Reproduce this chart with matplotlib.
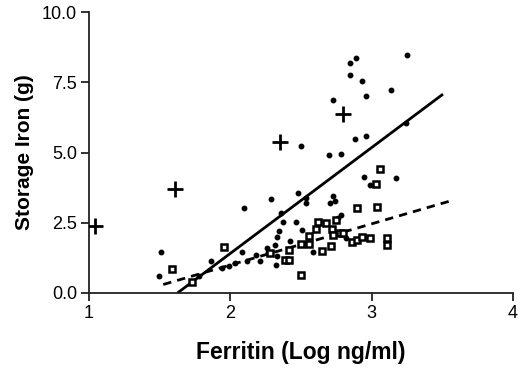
import numpy as np
import matplotlib
matplotlib.use('Agg')
import matplotlib.pyplot as plt

plt.rcParams['font.family'] = ['Liberation Sans', 'DejaVu Sans']

# 점 데이터 (Ferritin log, Storage iron g)
dot_x = [1.507, 1.497, 1.78, 1.867, 1.99, 2.03, 2.08, 2.10, 2.21, 2.26, 2.268, 2.287,
         2.315, 2.32, 2.33, 2.346, 2.357, 2.37, 2.33, 2.425, 2.468, 2.48, 2.50, 2.504,
         2.539, 2.539, 2.586, 2.695, 2.704, 2.727, 2.742, 2.727, 2.765, 2.78, 2.78, 2.82,
         2.85, 2.85, 2.888, 2.885, 2.935, 2.947, 2.96, 2.963, 2.99, 3.135, 3.175, 3.246,
         3.25, 2.73, 2.18, 1.94, 2.12]
dot_y = [1.47, 0.62, 0.62, 1.13, 0.95, 1.07, 1.46, 3.04, 1.12, 1.59, 1.45, 3.34,
         1.72, 1.01, 1.99, 2.19, 2.84, 2.53, 1.30, 1.86, 2.51, 3.55, 5.23, 2.25,
         3.39, 3.20, 1.44, 4.90, 3.22, 3.46, 3.29, 6.86, 2.66, 2.78, 4.96, 1.95,
         8.20, 7.75, 8.38, 5.49, 7.53, 4.12, 5.60, 7.03, 3.85, 7.22, 4.08, 6.04,
         8.49, 2.10, 1.35, 0.88, 1.15]

# 사각형 데이터
sq_x = [1.957, 1.59, 1.73, 2.28, 2.386, 2.416, 2.416, 2.50, 2.50, 2.56, 2.56, 2.62,
        2.61, 2.65, 2.68, 2.71, 2.72, 2.75, 2.73, 2.775, 2.80, 2.86, 2.90, 2.90,
        2.935, 2.99, 3.03, 3.04, 3.06, 3.11, 3.11]
sq_y = [1.62, 0.85, 0.38, 1.42, 1.18, 1.54, 1.18, 0.64, 1.74, 2.04, 1.74, 2.54,
        2.27, 1.48, 2.49, 1.66, 2.27, 2.60, 2.07, 2.13, 2.13, 1.80, 3.01, 1.89,
        1.98, 1.95, 3.87, 3.05, 4.41, 1.95, 1.72]

# 십자 데이터
plus_x = [1.04, 1.61, 2.35, 2.80]
plus_y = [2.37, 3.70, 5.38, 6.39]

# 회귀선 끝점
solid_x = [1.627, 3.505]
solid_y = [0.0, 7.08]
dash_x = [1.526, 3.58]
dash_y = [0.30, 3.31]

fig = plt.figure(figsize=(5.2, 3.68), dpi=100)
ax = fig.add_axes([0.171, 0.204, 0.8155, 0.763])

ax.plot(solid_x, solid_y, color='black', lw=2.0, solid_capstyle='butt', zorder=2)
ax.plot(dash_x, dash_y, color='black', lw=2.0, linestyle=(0, (3, 2.2)), zorder=2)

ax.plot(dot_x, dot_y, 'o', color='black', ms=3.2, zorder=3)
ax.plot(sq_x, sq_y, 's', mfc='white', mec='black', ms=4.6, mew=1.8, zorder=3)
ax.plot(plus_x, plus_y, '+', color='black', ms=11, mew=2.0, zorder=3)

ax.set_xlim(1, 4)
ax.set_ylim(0, 10)
ax.set_xticks([1, 2, 3, 4])
ax.set_yticks([0, 2.5, 5, 7.5, 10])
ax.set_yticklabels(['0.0', '2.5', '5.0', '7.5', '10.0'])

for s in ['top', 'right']:
    ax.spines[s].set_visible(False)
for s in ['left', 'bottom']:
    ax.spines[s].set_linewidth(1.3)
    ax.spines[s].set_color('#222222')
ax.tick_params(direction='out', length=5.5, width=1.3, labelsize=13, colors='#222222',
               labelcolor='black', pad=3)

ax.set_xlabel('Ferritin (Log ng/ml)', fontsize=16.5, fontweight='bold', labelpad=14)
ax.set_ylabel('Storage Iron (g)', fontsize=15, fontweight='bold', labelpad=6)

fig.savefig('out.png', dpi=100)
